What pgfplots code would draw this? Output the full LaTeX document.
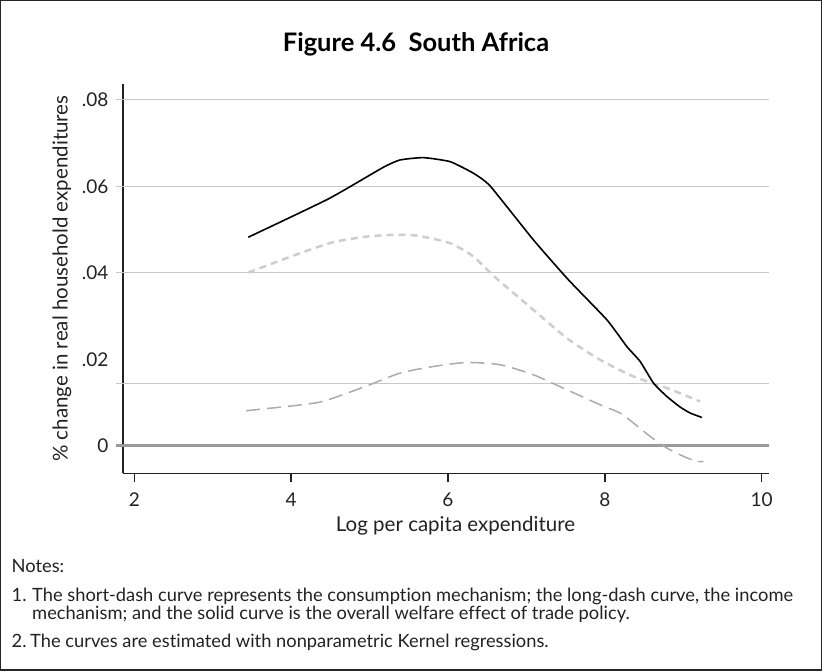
\documentclass[border=0pt]{standalone}
\usepackage{pgfplots}
\pgfplotsset{compat=1.18}
\usepackage{fontspec}
\setmainfont{Lato}[Ligatures=NoCommon]
\definecolor{gridgray}{HTML}{C8C8C8}
\definecolor{zerogray}{HTML}{9A9A9A}
\definecolor{sdash}{HTML}{CDCDCD}
\definecolor{ldash}{HTML}{ABABAB}
\definecolor{axcol}{HTML}{222222}
\begin{document}
\begin{tikzpicture}[x=1bp,y=1bp]
\draw[line width=1.5bp, black!85] (0.75,0.75) rectangle (821.25,670.25);
\node[font=\fontsize{25.5bp}{30bp}\selectfont\bfseries] at (416,627) {Figure 4.6\ \ South Africa};
\begin{axis}[
  at={(123bp,197.7bp)}, anchor=south west,
  scale only axis, width=646.3bp, height=389.3bp,
  xmin=1.856, xmax=10.097, ymin=-0.00638, ymax=0.0837,
  axis x line*=bottom, axis y line*=left,
  axis line style={axcol, line width=1.3bp},
  clip=false,
  xtick={2,4,6,8,10},
  ytick={0,0.02,0.04,0.06,0.08},
  yticklabels={0,.02,.04,.06,.08},
  scaled y ticks=false,
  /pgf/number format/assume math mode=true,
  tick label style={font=\fontsize{19bp}{22bp}\selectfont, text=axcol},
  xtick style={axcol, line width=1.3bp},
  tick align=outside, major tick length=9bp,
  ytick style={draw=none},
  y tick label style={xshift=-2bp},
  x tick label style={yshift=-7bp},
  extra y ticks={0.01434,0.04,0.06,0.08},
  extra y tick labels={},
  extra y tick style={grid=major, major grid style={draw=gridgray, line width=1bp},
     ytick style={draw=gridgray, line width=1bp}, major tick length=7bp},
  xlabel={Log per capita expenditure},
  ylabel={\% change in real household expenditures},
  label style={font=\fontsize{20.5bp}{24bp}\selectfont, text=axcol},
  xlabel style={at={(axis description cs:0.5145,0)}, anchor=base, yshift=-58bp},
  ylabel style={at={(axis description cs:0,0.5)}, anchor=center, yshift=61bp},
]
\addplot[zerogray, line width=3bp, forget plot] coordinates {(1.767,0) (10.097,0)};
% long dash: income mechanism
\addplot[ldash, line width=1.5bp, dash pattern=on 14bp off 7bp, smooth, tension=0.4] coordinates {
(3.425,0.00809) (4.028,0.00925) (4.347,0.01001) (4.538,0.01103) (4.96,0.0138)
(5.388,0.0168) (5.814,0.01833) (6.24,0.01926) (6.665,0.01873) (7.089,0.01642)
(7.515,0.01295) (7.94,0.00948) (8.195,0.00756) (8.365,0.00525) (8.578,0.00215)
(8.79,-0.00053) (9.003,-0.00247) (9.173,-0.00363) (9.258,-0.00363)};
% short dash: consumption mechanism
\addplot[sdash, line width=2.5bp, dash pattern=on 7bp off 5bp, smooth, tension=0.4] coordinates {
(3.454,0.04007) (4.114,0.04455) (4.538,0.0471) (4.964,0.04839) (5.304,0.04878)
(5.602,0.04862) (6.027,0.04686) (6.324,0.04377) (6.6,0.0390)
(7.089,0.03144) (7.515,0.0249) (7.94,0.01988) (8.365,0.01602) (8.79,0.01334)
(9.216,0.01024)};
% solid: overall
\addplot[black, line width=1.6bp, smooth, tension=0.3] coordinates {
(3.454,0.04825) (4.474,0.0571) (5.176,0.06443) (5.389,0.06612) (5.686,0.06666)
(6.027,0.06573) (6.324,0.06305) (6.537,0.0601) (7.089,0.04763) (7.536,0.03838)
(8.026,0.02913) (8.28,0.02296) (8.45,0.01949) (8.62,0.0145) (8.79,0.0114)
(8.96,0.00895) (9.088,0.00756) (9.237,0.00655)};
\end{axis}
\begin{scope}[every node/.style={anchor=base west, inner sep=0pt, font=\fontsize{18.3bp}{21bp}\selectfont, text=axcol}]
\node at (11.5,98) {Notes:};
\node at (11.5,69) {1.};
\node at (32,69) {The short-dash curve represents the consumption mechanism; the long-dash curve, the income};
\node at (32,51) {mechanism; and the solid curve is the overall welfare effect of trade policy.};
\node at (11.5,23) {2.};
\node at (30,23) {The curves are estimated with nonparametric Kernel regressions.};
\end{scope}
\end{tikzpicture}
\end{document}
